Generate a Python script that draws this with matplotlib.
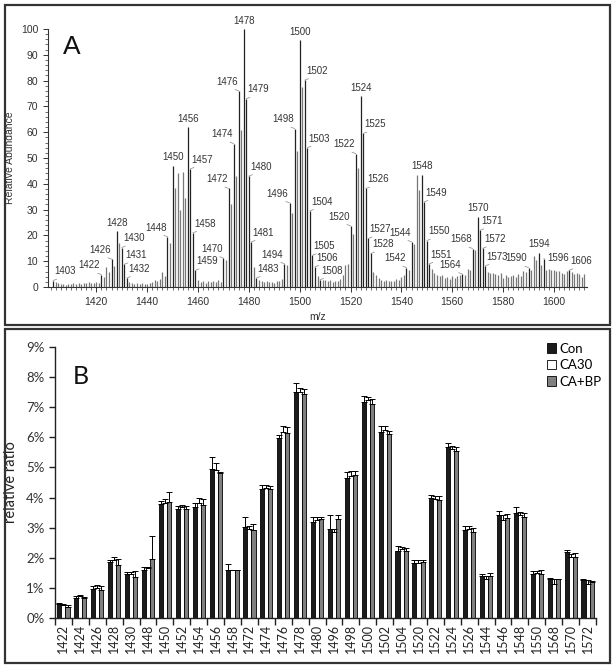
import matplotlib
matplotlib.use("Agg")
import matplotlib.pyplot as plt
from matplotlib import font_manager
from matplotlib.patches import Rectangle
from matplotlib.ticker import MultipleLocator, FuncFormatter
import numpy as np

# -------- Panel A: mass spectrum (relative abundance, m/z 1403..1612) --------
mz_start = 1403
abundance = [
    2.5, 2.0, 1.6, 1.0, 1.3, 0.8, 1.2, 1.0, 1.4, 1.1,          # 1403-1412
    1.6, 1.3, 1.7, 1.4, 1.8, 1.4, 1.6, 1.8, 1.5, 4.8,          # 1413-1422
    3.8, 7.8, 5.8, 10.8, 8.0, 21.7, 17.0, 15.3, 8.8, 3.5,      # 1423-1432
    2.0, 1.5, 1.2, 1.5, 1.2, 1.4, 1.0, 1.3, 1.5, 1.8,          # 1433-1442
    2.8, 2.5, 3.2, 5.8, 4.2, 19.5, 17.0, 47.0, 38.5, 44.0,     # 1443-1452
    30.0, 44.5, 34.5, 62.0, 45.8, 21.0, 6.5, 2.8, 1.8, 2.3,    # 1453-1462
    1.5, 2.3, 2.0, 2.4, 1.8, 2.6, 2.0, 11.2, 10.5, 38.2,       # 1463-1472
    32.2, 55.6, 43.0, 76.0, 61.0, 100.0, 73.0, 43.0, 17.5, 7.8,  # 1473-1482
    3.5, 2.8, 2.4, 2.0, 2.2, 1.8, 2.1, 1.7, 2.4, 2.5,          # 1483-1492
    3.0, 9.0, 8.4, 32.6, 28.8, 61.4, 52.6, 95.7, 77.6, 80.2,   # 1493-1502
    54.0, 29.5, 12.3, 7.8, 4.3, 2.8, 2.6, 2.8, 2.4, 2.6,       # 1503-1512
    2.0, 2.2, 2.5, 3.0, 4.5, 8.4, 8.8, 23.7, 20.7, 51.7,       # 1513-1522
    46.0, 74.0, 59.5, 38.2, 18.8, 13.0, 6.0, 4.5, 3.5, 2.8,    # 1523-1532
    2.5, 2.6, 2.4, 2.5, 2.2, 3.0, 2.8, 4.0, 4.8, 7.5,          # 1533-1542
    6.5, 17.5, 16.5, 43.3, 37.5, 43.6, 33.0, 18.0, 9.0, 7.0,   # 1543-1552
    5.5, 4.8, 4.2, 4.5, 3.5, 4.0, 3.2, 4.2, 3.3, 4.2,          # 1553-1562
    4.6, 5.0, 4.5, 7.0, 6.5, 14.9, 14.2, 27.2, 22.0, 15.0,     # 1563-1572
    8.2, 5.8, 5.5, 5.3, 5.0, 4.6, 5.6, 3.5, 4.8, 3.9,          # 1573-1582
    4.4, 4.8, 3.9, 5.2, 4.1, 6.2, 6.0, 7.5, 6.7, 11.9,         # 1583-1592
    10.6, 13.2, 8.4, 11.0, 6.5, 7.1, 6.7, 6.5, 6.1, 6.2,       # 1593-1602
    5.6, 4.9, 6.2, 6.5, 5.7, 5.2, 5.6, 5.2, 3.9, 4.9,          # 1603-1612
]
peak_labels = [1403, 1422, 1426, 1428, 1430, 1431, 1432, 1448, 1450, 1456,
               1457, 1458, 1459, 1470, 1472, 1474, 1476, 1478, 1479, 1480,
               1481, 1483, 1494, 1496, 1498, 1500, 1502, 1503, 1504, 1505,
               1506, 1508, 1520, 1522, 1524, 1525, 1526, 1527, 1528, 1542,
               1544, 1548, 1549, 1550, 1551, 1564, 1568, 1570, 1571, 1572,
               1573, 1590, 1594, 1596, 1606]
labels_left = [1422, 1426, 1448, 1470, 1472, 1474, 1476, 1494, 1496, 1498,
               1520, 1522, 1542, 1544, 1564, 1568, 1590]
labels_centre = [1428, 1450, 1456, 1478, 1500, 1524, 1548, 1570, 1594]

# -------- Panel B: relative ratio per species (%) --------
species = ["1422", "1424", "1426", "1428", "1430", "1448", "1450", "1452",
           "1454", "1456", "1458", "1472", "1474", "1476", "1478", "1480",
           "1496", "1498", "1500", "1502", "1504", "1520", "1522", "1524",
           "1526", "1544", "1546", "1548", "1550", "1568", "1570", "1572"]
con = [0.45, 0.67, 0.97, 1.85, 1.47, 1.58, 3.77, 3.62, 3.70, 4.95, 1.60,
       3.02, 4.28, 5.97, 7.51, 3.20, 2.96, 4.66, 7.16, 6.18, 2.24, 1.81,
       3.97, 5.67, 2.93, 1.38, 3.41, 3.49, 1.47, 1.29, 2.18, 1.27]
con_err = [0.05, 0.06, 0.10, 0.08, 0.07, 0.10, 0.12, 0.10, 0.13, 0.40, 0.20,
           0.35, 0.13, 0.12, 0.30, 0.15, 0.45, 0.18, 0.20, 0.19, 0.14, 0.12,
           0.13, 0.15, 0.11, 0.08, 0.15, 0.19, 0.08, 0.03, 0.09, 0.03]
ca30 = [0.43, 0.72, 1.00, 1.92, 1.47, 1.65, 3.83, 3.68, 3.82, 4.90, 1.58,
        2.95, 4.33, 6.18, 7.51, 3.26, 2.84, 4.72, 7.25, 6.24, 2.29, 1.82,
        3.94, 5.62, 2.95, 1.30, 3.26, 3.43, 1.51, 1.14, 2.04, 1.14]
ca30_err = [0.04, 0.06, 0.08, 0.10, 0.07, 0.03, 0.12, 0.08, 0.15, 0.25, 0.02,
            0.10, 0.08, 0.18, 0.14, 0.08, 0.10, 0.15, 0.10, 0.12, 0.08, 0.10,
            0.10, 0.10, 0.09, 0.10, 0.15, 0.10, 0.05, 0.17, 0.10, 0.11]
cabp = [0.38, 0.65, 0.93, 1.77, 1.35, 1.95, 3.85, 3.62, 3.75, 4.80, 1.58,
        2.92, 4.30, 6.13, 7.45, 3.28, 3.28, 4.74, 7.10, 6.10, 2.24, 1.87,
        3.91, 5.54, 2.87, 1.40, 3.31, 3.36, 1.47, 1.29, 2.02, 1.18]
cabp_err = [0.04, 0.05, 0.12, 0.20, 0.20, 0.78, 0.35, 0.10, 0.20, 0.05, 0.02,
            0.20, 0.08, 0.20, 0.17, 0.06, 0.13, 0.15, 0.18, 0.12, 0.10, 0.07,
            0.15, 0.13, 0.12, 0.08, 0.14, 0.14, 0.12, 0.02, 0.13, 0.05]


def pick_font(names):
    installed = {f.name for f in font_manager.fontManager.ttflist}
    for n in names:
        if n in installed:
            return n
    return "DejaVu Sans"


narrow = pick_font(["Liberation Sans Narrow", "Liberation Sans", "Arial"])
calib = pick_font(["Lato", "Open Sans", "DejaVu Sans"])

fig = plt.figure(figsize=(6.16, 6.69), dpi=100)
W, H = 616.0, 669.0


def fbox(x0, y0, x1, y1):
    # pixel box (top-left origin) -> figure fraction rect
    return [x0 / W, 1 - y1 / H, (x1 - x0) / W, (y1 - y0) / H]


# panel frames
for (x0, y0, x1, y1) in [(5, 5, 610, 325), (5, 329, 610, 663)]:
    r = fbox(x0, y0, x1, y1)
    fig.add_artist(Rectangle((r[0], r[1]), r[2], r[3], transform=fig.transFigure,
                             fill=False, lw=1.6, ec="#333333"))

# -------- Panel A --------
ax_a = fig.add_axes(fbox(48, 29, 587, 287))
mz = np.arange(mz_start, mz_start + len(abundance))
ab = np.array(abundance)
is_lab = np.isin(mz, peak_labels)
ax_a.vlines(mz[~is_lab], 0, ab[~is_lab], color="#777777", lw=0.9)
ax_a.vlines(mz[is_lab], 0, ab[is_lab], color="#222222", lw=0.9)
ax_a.set_xlim(1401, 1613)
ax_a.set_ylim(0, 100)
for s in ["top", "right"]:
    ax_a.spines[s].set_visible(False)
for s in ["left", "bottom"]:
    ax_a.spines[s].set_linewidth(0.8)
    ax_a.spines[s].set_color("#333333")
ax_a.xaxis.set_minor_locator(MultipleLocator(2))
ax_a.yaxis.set_major_locator(MultipleLocator(10))
ax_a.yaxis.set_minor_locator(MultipleLocator(2))
ax_a.set_xticks([1420, 1440, 1460, 1480, 1500, 1520, 1540, 1560, 1580, 1600])
ax_a.tick_params(which="major", length=3.5, width=0.7, labelsize=7.5, colors="#333333")
ax_a.tick_params(which="minor", length=2, width=0.5, colors="#333333")
for t in ax_a.get_xticklabels() + ax_a.get_yticklabels():
    t.set_fontfamily(narrow)
ax_a.set_ylabel("Relative Abundance", fontsize=7.5, family=narrow, color="#333333", labelpad=4)
ax_a.set_xlabel("m/z", fontsize=7.5, family=narrow, color="#333333", labelpad=4)
ax_a.text(0.045, 0.93, "A", transform=ax_a.transAxes, fontsize=19, family=narrow,
          color="#111111", va="center", ha="center")

# a few labels sit beside their peak rather than above it (points)
label_shift = {1596: (2.5, -3.5)}

for m in peak_labels:
    h = abundance[m - mz_start]
    if m in labels_centre:
        ax_a.annotate(str(m), (m, h), xytext=(0, 2.5), textcoords="offset points",
                      ha="center", va="bottom", fontsize=7, family=narrow, color="#333333")
    else:
        side = -1 if m in labels_left else 1
        dx, dy = label_shift.get(m, (side * 0.8, 3))
        ax_a.annotate(str(m), (m, h), xytext=(dx, dy), textcoords="offset points",
                      ha="left" if side > 0 else "right", va="bottom", fontsize=7,
                      family=narrow, color="#333333",
                      arrowprops=dict(arrowstyle="-", color="#999999", lw=0.6,
                                      shrinkA=0, shrinkB=0,
                                      relpos=(0.45, 0) if side > 0 else (0.55, 0)))

# -------- Panel B --------
ax_b = fig.add_axes(fbox(55, 347, 596, 618))
x = np.arange(len(species))
w = 0.24
series = [(con, con_err, "#1c1c1c", "Con"),
          (ca30, ca30_err, "white", "CA30"),
          (cabp, cabp_err, "#808080", "CA+BP")]
for k, (vals, err, col, lab) in enumerate(series):
    ax_b.bar(x + (k - 1) * w, vals, w, color=col, edgecolor="black", lw=0.6, label=lab,
             yerr=[np.zeros(len(err)), err], capsize=2.2,
             error_kw=dict(lw=0.7, capthick=0.7, ecolor="black"))
ax_b.set_xlim(-0.5, len(species) - 0.5)
ax_b.set_ylim(0, 9)
for s in ["top", "right"]:
    ax_b.spines[s].set_visible(False)
for s in ["left", "bottom"]:
    ax_b.spines[s].set_linewidth(1.0)
    ax_b.spines[s].set_color("#222222")
ax_b.set_xticks(x)
ax_b.set_xticklabels(species, rotation=90, fontsize=9, family=calib, color="#222222")
ax_b.set_xticks(np.arange(-0.5, len(species), 1), minor=True)
ax_b.tick_params(axis="x", which="major", length=0, pad=4)
ax_b.tick_params(axis="x", which="minor", length=5, width=1.0, color="#222222")
ax_b.yaxis.set_major_locator(MultipleLocator(1))
ax_b.yaxis.set_major_formatter(FuncFormatter(lambda v, p: "%d%%" % round(v)))
ax_b.tick_params(axis="y", length=4, width=1.0, color="#222222", labelsize=9.5,
                 labelcolor="#333333")
for t in ax_b.get_yticklabels():
    t.set_fontfamily(calib)
ax_b.set_ylabel("relative ratio", fontsize=10.5, family=calib, color="#222222", labelpad=6)
ax_b.text(0.048, 0.89, "B", transform=ax_b.transAxes, fontsize=18, family=calib,
          color="#111111", va="center", ha="center")
ax_b.legend(loc="upper left", bbox_to_anchor=(540 / W, 1 - 336 / H),
            bbox_transform=fig.transFigure, frameon=False,
            prop=dict(family=calib, size=9.5), handlelength=0.75, handleheight=0.75,
            handletextpad=0.25, labelspacing=0.35, borderpad=0)

fig.savefig("out.png", dpi=100)
